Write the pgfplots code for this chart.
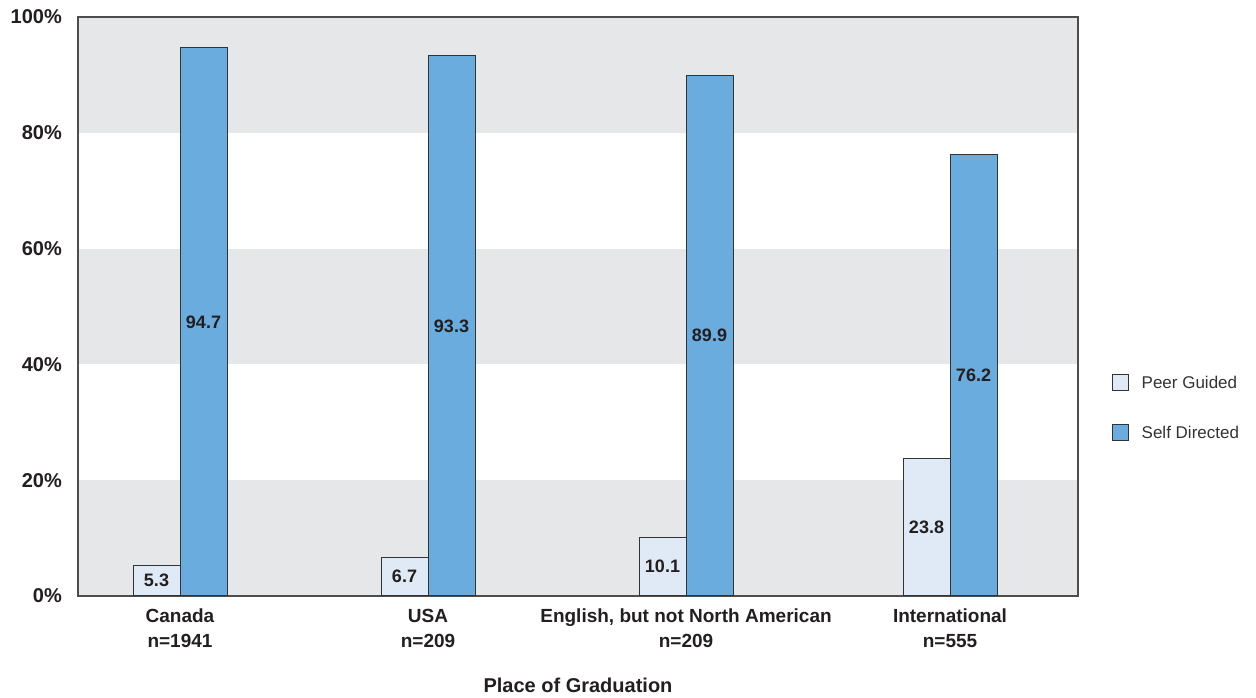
\documentclass[border=0pt]{standalone}
\usepackage{pgfplots}
\pgfplotsset{compat=1.18}
\usepackage{fontspec}
\setmainfont{Liberation Sans}
\definecolor{peer}{HTML}{DFEAF6}
\definecolor{selfc}{HTML}{6AACDE}
\definecolor{band}{HTML}{E6E7E9}
\definecolor{edge}{HTML}{333333}
\definecolor{axisc}{HTML}{4D4D4D}
\definecolor{txt}{HTML}{231F20}
\begin{document}
\begin{tikzpicture}[x=1pt,y=1pt]
\begin{axis}[
  set layers,
  at={(0,0)}, anchor=south west,
  scale only axis, width=1000pt, height=579pt,
  xmin=78, xmax=1078, ymin=0, ymax=100,
  axis line style={axisc, line width=1.3pt},
  major tick length=0pt,
  ybar, bar width=47,
  ytick={0,20,40,60,80,100},
  yticklabels={0\%,20\%,40\%,60\%,80\%,100\%},
  yticklabel style={font=\bfseries\fontsize{20}{24}\selectfont, text=txt, inner sep=0pt, xshift=-16pt},
  xtick={180,428,686,950},
  xticklabels={{Canada\\n=1941},{USA\\n=209},{English, but not North American\\n=209},{International\\n=555}},
  xticklabel style={align=center, font=\bfseries\fontsize{19}{25}\selectfont, text=txt, inner sep=0pt, yshift=-13pt},
  xlabel={Place of Graduation},
  xlabel style={at={(rel axis cs:0.5,0)}, anchor=base, yshift=-97pt, font=\bfseries\fontsize{20}{24}\selectfont, text=txt},
  /pgf/number format/assume math mode=true,
  nodes near coords={\pgfmathprintnumber[fixed,fixed zerofill,precision=1]{\pgfplotspointmeta}},
  nodes near coords style={anchor=center, font=\bfseries\fontsize{18}{20}\selectfont, text=txt},
  visualization depends on={y \as \rawy},
  every node near coord/.append style={shift={(axis direction cs:0,-\rawy/2)}},
  legend image code/.code={\path[draw=none,fill=none] (0pt,0pt) -- (29pt,0pt);\draw[#1, draw=edge, line width=1pt] (0pt,-8pt) rectangle (16pt,8pt);},
  legend style={at={(rel axis cs:1.034,0.383)}, anchor=north west, draw=none, fill=none,
    font=\fontsize{17}{20}\selectfont, text=edge, row sep=33pt, inner sep=0pt,
    nodes={inner sep=0pt}},
  legend cell align=left,
]
\begin{pgfonlayer}{axis background}
\fill[band] (axis cs:78,0) rectangle (axis cs:1078,20);
\fill[band] (axis cs:78,40) rectangle (axis cs:1078,60);
\fill[band] (axis cs:78,80) rectangle (axis cs:1078,100);
\end{pgfonlayer}
\addplot[fill=peer, draw=edge, line width=1pt, bar shift=-23.5] coordinates {(180,5.3) (428,6.7) (686,10.1) (950,23.8)};
\addlegendentry{Peer Guided}
\addplot[fill=selfc, draw=edge, line width=1pt, bar shift=23.5] coordinates {(180,94.7) (428,93.3) (686,89.9) (950,76.2)};
\addlegendentry{Self Directed}
\end{axis}
\pgfresetboundingbox
\path (-78,-102) rectangle (1178,596);
\end{tikzpicture}
\end{document}
